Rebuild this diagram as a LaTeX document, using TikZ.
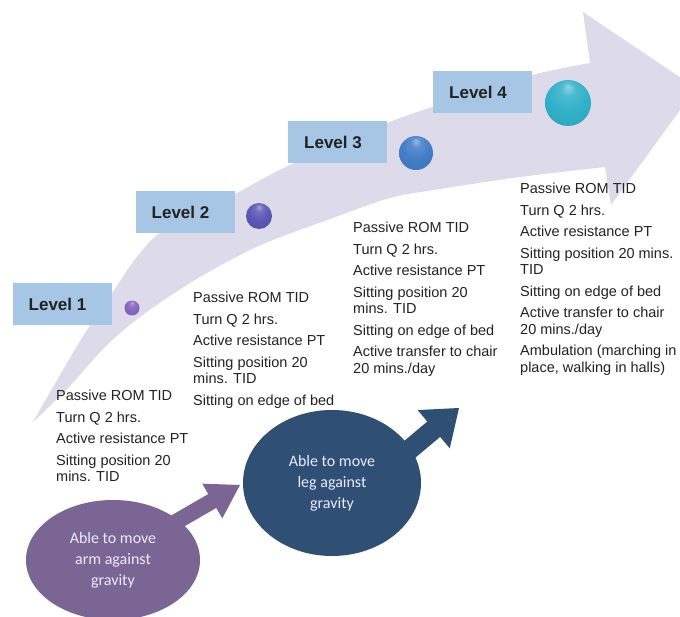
\documentclass[tikz,border=0pt]{standalone}
\usepackage{fontspec}
\setmainfont{Liberation Sans}
\newfontfamily\calfont{Carlito}
\usetikzlibrary{shapes.geometric}

\definecolor{lav}{RGB}{221,219,233}
\definecolor{boxblue}{RGB}{167,197,229}
\definecolor{armpurple}{RGB}{122,101,148}
\definecolor{legblue}{RGB}{48,79,116}
\definecolor{ballA}{RGB}{136,100,190}
\definecolor{ballB}{RGB}{92,88,180}
\definecolor{ballC}{RGB}{68,126,200}
\definecolor{ballD}{RGB}{50,178,202}
\definecolor{ink}{RGB}{34,34,34}

% light fade at the tail of the big progress arrow
\pgfdeclarehorizontalshading{arrowfade}{100bp}{color(0bp)=(white); color(6bp)=(lav!50); color(14bp)=(lav); color(100bp)=(lav)}

% glossy marker: small light cap on top, darker rim
\newcommand\declaregloss[2]{%
  \pgfdeclareradialshading{#1}{\pgfpoint{0bp}{18bp}}{%
    color(0bp)=(#2!55!white); color(8bp)=(#2!88!white); color(20bp)=(#2);
    color(40bp)=(#2!90!black); color(50bp)=(#2!68!black)}}
\declaregloss{glossA}{ballA}
\declaregloss{glossB}{ballB}
\declaregloss{glossC}{ballC}
\declaregloss{glossD}{ballD}

\tikzset{
  lvlbox/.style={rectangle, fill=boxblue, minimum width=99pt, minimum height=42pt,
    inner sep=0pt, text=ink, font=\bfseries\fontsize{17}{20}\selectfont},
  listtxt/.style={anchor=north west, inner sep=0pt, align=left, text=ink,
    font=\fontsize{14.5}{16.5}\selectfont},
  stage/.style={ellipse, inner sep=0pt, text=white!92!blue, align=center,
    font=\calfont\fontsize{16}{21}\selectfont},
  ballnode/.style={circle, inner sep=0pt, minimum size=#1}
}

\begin{document}
\begin{tikzpicture}[x=1pt,y=-1pt]
\useasboundingbox (0,0) rectangle (680,617);
\clip (0,0) rectangle (680,617);

% big curved arrow
\shade[shading=arrowfade]
  plot[smooth,tension=0.55] coordinates {(33,422) (60,375) (85,333) (113,292) (133,262) (157,235) (195,212) (235,194) (288,166) (387,123) (460,98) (532,75) (590,63)}
  -- (583,12) -- (696,88) -- (611,205) -- (605,167)
  -- plot[smooth,tension=0.55] coordinates {(605,167) (520,177) (440,189) (390,198) (330,219) (273,240) (240,255) (190,283) (140,317) (105,347) (68,388) (33,422)}
  -- cycle;

% level boxes
\node[lvlbox] (lv1) at (62,304) {Level 1\hspace*{9pt}};
\node[lvlbox] (lv2) at (185,212) {Level 2\hspace*{9pt}};
\node[lvlbox] (lv3) at (337.5,142.5) {Level 3\hspace*{9pt}};
\node[lvlbox] (lv4) at (482.5,92) {Level 4\hspace*{9pt}};

% markers on the arrow
\node[ballnode=15pt, shading=glossA] (b1) at (132,308) {};
\node[ballnode=26pt, shading=glossB] (b2) at (259,216) {};
\node[ballnode=34pt, shading=glossC] (b3) at (416,153) {};
\node[ballnode=46pt, shading=glossD] (b4) at (568,103) {};

% activity lists
\node[listtxt] (t1) at (56,390) {Passive ROM TID\\[5pt]Turn Q 2 hrs.\\[5pt]Active resistance PT\\[5pt]Sitting position 20\\mins. TID};
\node[listtxt] (t2) at (193,292) {Passive ROM TID\\[5pt]Turn Q 2 hrs.\\[5pt]Active resistance PT\\[5pt]Sitting position 20\\mins. TID\\[5pt]Sitting on edge of bed};
\node[listtxt] (t3) at (353,222) {Passive ROM TID\\[5pt]Turn Q 2 hrs.\\[5pt]Active resistance PT\\[5pt]Sitting position 20\\mins. TID\\[5pt]Sitting on edge of bed\\[5pt]Active transfer to chair\\20 mins./day};
\node[listtxt] (t4) at (520,183) {Passive ROM TID\\[5pt]Turn Q 2 hrs.\\[5pt]Active resistance PT\\[5pt]Sitting position 20 mins.\\TID\\[5pt]Sitting on edge of bed\\[5pt]Active transfer to chair\\20 mins./day\\[5pt]Ambulation (marching in\\place, walking in halls)};

% milestone ellipses with their block arrows
\node[stage, fill=armpurple, minimum width=174pt, minimum height=120pt] (arm) at (113,560) {Able to move\\arm against\\gravity};
\fill[armpurple, shift={(240,485)}, rotate=30]
  (0,0) -- (-32,-20) -- (-32,-8) -- (-95,-8) -- (-95,8) -- (-32,8) -- (-32,20) -- cycle;

\node[stage, fill=legblue, minimum width=178pt, minimum height=146pt] (leg) at (332,483) {Able to move\\leg against\\gravity};
\fill[legblue, shift={(459,408)}, rotate=40]
  (0,0) -- (-33,-25) -- (-33,-10) -- (-100,-10) -- (-100,10) -- (-33,10) -- (-33,25) -- cycle;
\end{tikzpicture}
\end{document}
